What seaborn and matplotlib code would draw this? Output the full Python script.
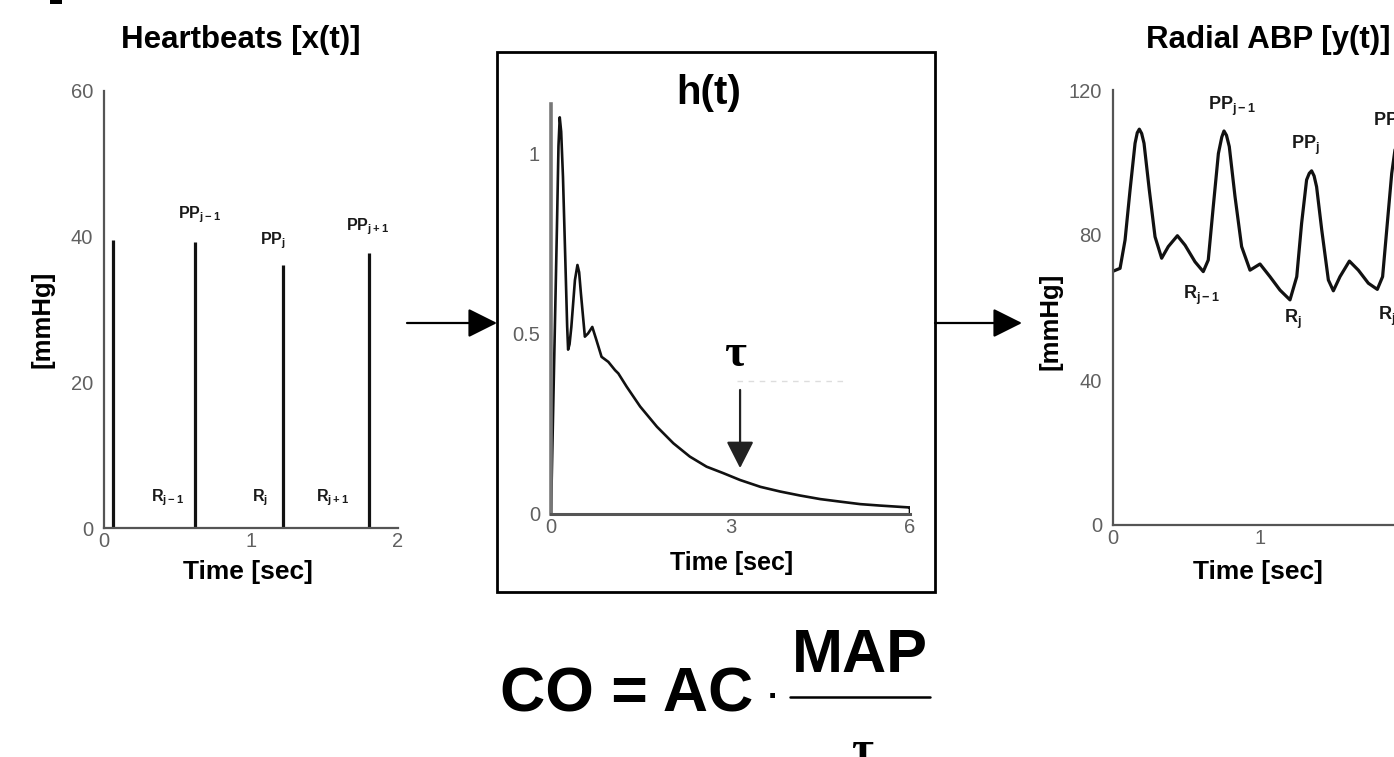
import matplotlib
matplotlib.use("Agg")
import matplotlib.pyplot as plt
from matplotlib.patches import Rectangle, FancyArrowPatch
import seaborn as sns

# --- DATA ---
# heartbeat impulses x(t)
beat_times = [0.063, 0.62, 1.22, 1.80]
beat_heights = [39.5, 39.3, 36.1, 37.8]

# impulse response h(t)
h_time = [0.0, 0.10, 0.125, 0.146, 0.17, 0.20, 0.24, 0.27, 0.286, 0.31, 0.34, 0.40,
          0.442, 0.47, 0.50, 0.566, 0.62, 0.69, 0.76, 0.845, 0.958, 1.07, 1.125,
          1.265, 1.49, 1.77, 2.045, 2.32, 2.60, 2.88, 3.16, 3.50, 3.83, 4.16,
          4.50, 4.83, 5.17, 5.50, 5.97, 6.0, 6.0]
h_value = [0.0, 0.80, 1.02, 1.10, 1.06, 0.935, 0.70, 0.52, 0.455, 0.47, 0.518, 0.648,
           0.690, 0.67, 0.611, 0.491, 0.50, 0.518, 0.481, 0.435, 0.421, 0.398, 0.389,
           0.352, 0.297, 0.241, 0.195, 0.158, 0.130, 0.112, 0.093, 0.074, 0.061, 0.050,
           0.040, 0.033, 0.026, 0.022, 0.017, 0.017, 0.0]

# radial arterial blood pressure y(t)
abp_time = [0.0, 0.048, 0.082, 0.116, 0.150, 0.165, 0.179, 0.195, 0.211, 0.247, 0.286,
            0.331, 0.376, 0.438, 0.490, 0.558, 0.614, 0.648, 0.682, 0.717, 0.74, 0.755,
            0.772, 0.791, 0.830, 0.875, 0.932, 1.0, 1.068, 1.136, 1.204, 1.25, 1.283,
            1.317, 1.335, 1.351, 1.368, 1.385, 1.420, 1.465, 1.499, 1.544, 1.608,
            1.669, 1.737, 1.798, 1.834, 1.866, 1.896, 1.92, 1.945, 1.97, 2.0]
abp_value = [70.0, 70.8, 78.6, 92.4, 105.3, 108.2, 109.2, 108.0, 105.3, 92.4, 79.5,
             73.6, 76.8, 79.8, 77.2, 72.6, 69.9, 73.1, 87.8, 102.5, 107.0, 108.7,
             107.5, 104.4, 90.6, 76.8, 70.3, 72.0, 68.5, 64.8, 62.1, 68.5, 83.2,
             95.2, 97.0, 97.7, 96.3, 93.3, 81.4, 67.6, 64.6, 68.5, 72.8,
             70.3, 66.7, 65.0, 68.5, 83.2, 97.0, 104.0, 108.0, 105.0, 96.0]

pp_labels = ["PP$_{\\mathrm{j-1}}$", "PP$_{\\mathrm{j}}$", "PP$_{\\mathrm{j+1}}$"]
r_labels = ["R$_{\\mathrm{j-1}}$", "R$_{\\mathrm{j}}$", "R$_{\\mathrm{j+1}}$"]

W, H = 1394, 757
AXIS_GREY = "#555555"


def fx(px):
    return px / W


def fy(py):
    return 1 - py / H


def style_axes(ax, xlim, ylim, xticks, yticks, xtl, ytl, spine_w=1.6):
    ax.set_xlim(*xlim)
    ax.set_ylim(*ylim)
    ax.set_xticks(xticks)
    ax.set_xticklabels(xtl)
    ax.set_yticks(yticks)
    ax.set_yticklabels(ytl)
    for s in ["top", "right"]:
        ax.spines[s].set_visible(False)
    for s in ["left", "bottom"]:
        ax.spines[s].set_color(AXIS_GREY)
        ax.spines[s].set_linewidth(spine_w)
    ax.tick_params(direction="in", length=4, width=1, colors=AXIS_GREY,
                   labelcolor="#606060", labelsize=14.5)
    ax.tick_params(axis="x", pad=3)
    ax.tick_params(axis="y", pad=8)
    ax.set_xlabel("")
    ax.set_ylabel("")
    ax.patch.set_alpha(0)
    ax.grid(False)


sns.set_theme(style="white")
plt.rcParams["font.family"] = ["Liberation Sans", "DejaVu Sans"]
plt.rcParams["text.color"] = "black"
plt.rcParams["mathtext.fontset"] = "custom"
plt.rcParams["mathtext.rm"] = "Liberation Sans:bold"
plt.rcParams["mathtext.it"] = "Liberation Sans:bold"
plt.rcParams["mathtext.bf"] = "Liberation Sans:bold"

fig = plt.figure(figsize=(W / 100, H / 100), dpi=100)
fig.patch.set_facecolor("white")

# --- LEFT: heartbeats ---
ax1 = fig.add_axes([fx(104), fy(528), 294 / W, 437 / H])
ax1.vlines(beat_times, 0, beat_heights, color="#111111", lw=2.3)
style_axes(ax1, (0, 2), (0, 60), [0, 1, 2], [0, 20, 40, 60],
           ["0", "1", "2"], ["0", "20", "40", "60"])
for (t, v), lab in zip([(0.653, 43.0), (1.15, 39.4), (1.79, 41.4)], pp_labels):
    ax1.text(t, v, lab, ha="center", va="center", fontsize=11.5, fontweight="bold", color="#1a1a1a")
for (t, v), lab in zip([(0.435, 4.1), (1.06, 4.1), (1.558, 4.1)], r_labels):
    ax1.text(t, v, lab, ha="center", va="center", fontsize=11.5, fontweight="bold", color="#1a1a1a")

fig.text(fx(241), fy(40), "Heartbeats [x(t)]", ha="center", va="center",
         fontsize=22.5, fontweight="bold")
fig.text(fx(43), fy(319), "[mmHg]", ha="center", va="center", rotation=90,
         fontsize=18.5, fontweight="bold")
fig.text(fx(248), fy(572), "Time [sec]", ha="center", va="center",
         fontsize=19, fontweight="bold")

# --- MIDDLE: impulse response ---
ax2 = fig.add_axes([fx(551), fy(513.5), 359 / W, 409.5 / H])
sns.lineplot(x=h_time, y=h_value, sort=False, estimator=None, ax=ax2,
             color="#111111", lw=1.9, solid_joinstyle="round")
style_axes(ax2, (0, 6), (0, 1.137), [0, 3, 6], [0, 0.5, 1],
           ["0", "3", "6"], ["0", "0.5", "1"])
ax2.spines["left"].set_linewidth(2.6)
ax2.spines["left"].set_color("#777777")
ax2.spines["bottom"].set_linewidth(2.2)
ax2.plot([3.11, 4.95], [0.368, 0.368], ls=(0, (4, 4)), color="#dddddd", lw=1)
ax2.text(3.08, 0.44, "\u03c4", ha="center", va="center", fontsize=34,
         fontweight="bold", family=["Liberation Serif", "DejaVu Serif"])
ax2.annotate("", xy=(3.16, 0.126), xytext=(3.16, 0.343),
             arrowprops=dict(arrowstyle="-|>,head_length=0.55,head_width=0.28",
                             color="#222222", lw=1.6, mutation_scale=30,
                             shrinkA=0, shrinkB=0))

fig.text(fx(709), fy(93), "h(t)", ha="center", va="center", fontsize=29, fontweight="bold")
fig.text(fx(732), fy(563), "Time [sec]", ha="center", va="center",
         fontsize=18, fontweight="bold")
fig.add_artist(Rectangle((fx(497), fy(592)), fx(935) - fx(497), fy(52) - fy(592),
                         transform=fig.transFigure, fill=False, ec="black", lw=2))

# --- RIGHT: radial ABP (panel runs off the right edge) ---
ax3 = fig.add_axes([fx(1113), fy(525), 294 / W, 435 / H])
sns.lineplot(x=abp_time, y=abp_value, sort=False, estimator=None, ax=ax3,
             color="#111111", lw=2.3, solid_joinstyle="round")
style_axes(ax3, (0, 2), (0, 120), [0, 1, 2], [0, 40, 80, 120],
           ["0", "1", ""], ["0", "40", "80", "120"])
for (t, v), lab in zip([(0.807, 115.6), (1.306, 104.8), (1.935, 111.0)], pp_labels):
    ax3.text(t, v, lab, ha="center", va="center", fontsize=13, fontweight="bold", color="#1a1a1a")
for (t, v), lab in zip([(0.603, 63.4), (1.227, 56.6), (1.93, 57.6)], r_labels):
    ax3.text(t, v, lab, ha="center", va="center", fontsize=13, fontweight="bold", color="#1a1a1a")

fig.text(fx(1268), fy(40), "Radial ABP [y(t)]", ha="center", va="center",
         fontsize=22.5, fontweight="bold")
fig.text(fx(1050), fy(321), "[mmHg]", ha="center", va="center", rotation=90,
         fontsize=18.5, fontweight="bold")
fig.text(fx(1258), fy(572), "Time [sec]", ha="center", va="center",
         fontsize=19, fontweight="bold")

# --- arrows between panels ---
for x0, x1 in [(407, 497), (935, 1022)]:
    fig.add_artist(FancyArrowPatch((fx(x0), fy(323)), (fx(x1), fy(323)),
                                   transform=fig.transFigure,
                                   arrowstyle="-|>,head_length=0.6,head_width=0.3",
                                   mutation_scale=30, color="black", lw=1.6,
                                   shrinkA=0, shrinkB=0))

# --- formula ---
fig.text(fx(500), fy(712), "CO = AC", ha="left", va="baseline",
         fontsize=45, fontweight="bold")
fig.text(fx(773), fy(698), "\u00b7", ha="center", va="center", fontsize=24, fontweight="bold")
fig.add_artist(plt.Line2D([fx(790), fx(930)], [fy(697), fy(697)],
                          transform=fig.transFigure, color="black", lw=1.8))
fig.text(fx(860), fy(672), "MAP", ha="center", va="baseline",
         fontsize=44, fontweight="bold")
fig.text(fx(862), fy(731), "\u03c4", ha="center", va="top", fontsize=34,
         fontweight="bold", family=["Liberation Serif", "DejaVu Serif"])

# small cropped mark at the top-left corner
fig.add_artist(Rectangle((fx(50), fy(4)), fx(12), 4 / H, transform=fig.transFigure,
                         color="black", lw=0))

fig.savefig("out.png", dpi=100)
